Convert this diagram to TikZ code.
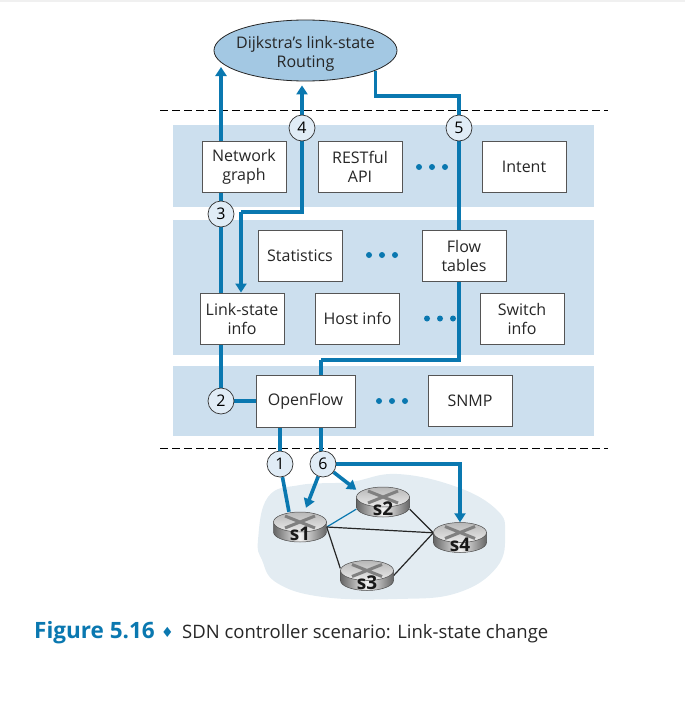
\documentclass[tikz,border=0pt]{standalone}
\usepackage{fontspec}
\setmainfont{Open Sans}
\newfontfamily\symfont{DejaVu Sans}
\usetikzlibrary{shapes.geometric,arrows.meta}
\pgfdeclarelayer{backdrop}
\pgfdeclarelayer{wires}
\pgfsetlayers{backdrop,wires,main}
\definecolor{wireblue}{HTML}{0A78B0}
\definecolor{bandblue}{HTML}{CCDFEE}
\definecolor{ovalblue}{HTML}{A3C8E3}
\definecolor{cloudgray}{HTML}{E3ECF2}
\definecolor{circfill}{HTML}{E0ECF6}
\definecolor{boxline}{HTML}{555555}
\tikzset{
	band/.style={fill=bandblue,draw=none},
	modbox/.style={draw=boxline,fill=white,line width=.9pt,minimum width=84pt,minimum height=51pt,inner sep=0pt,align=center,font=\fontsize{16}{19}\selectfont,text=black!85},
	stepnum/.style={circle,draw=black!80,fill=circfill,line width=.7pt,minimum size=26pt,inner sep=0pt,font=\fontsize{16}{18}\selectfont},
	wire/.style={draw=wireblue,line width=3.6pt},
	wirehead/.style={wire,-{Triangle[length=9pt,width=11pt]}},
	link/.style={draw=black!85,line width=1.2pt},
	routerpos/.style={minimum width=53pt,minimum height=30pt,inner sep=0pt},
	routername/.style={font=\fontsize{19}{20}\selectfont\bfseries,text=black!90,inner sep=0pt},
	dotted3/.style={fill=wireblue,circle,inner sep=0pt,minimum size=6pt}
}
\begin{document}
\begin{tikzpicture}[x=1pt,y=-1pt]
	\useasboundingbox (0,0) rectangle (685,704);
	\begin{pgfonlayer}{backdrop}
	\fill[black!6] (0,0) rectangle (685,2);
	% bands
		\foreach \t/\b in {125/207,220/355,366/436}{
			\fill[band] (173,\t) rectangle (594,\b);
			}
	% separators
		\foreach \y in {110,448}{
			\draw[line width=.9pt,dash pattern=on 7.5pt off 4.5pt] (160,\y) -- (608,\y);
			}
	% switch cloud
		\fill[cloudgray] plot[smooth cycle,tension=.7] coordinates {(258,540) (268,497) (300,485) (350,482) (397,474) (457,487) (497,510) (505,533) (497,567) (457,593) (397,599) (323,597) (277,583) (262,560)};
	\end{pgfonlayer}
	% controller
		\node[ellipse,draw=black!85,fill=ovalblue,line width=.8pt,minimum width=183pt,minimum height=61pt,inner sep=0pt] (dijkstra) at (305.5,50.5) {};
		\node[align=center,inner sep=0pt,font=\fontsize{16}{19}\selectfont,text=black!85] (dijkstratxt) at (305.5,53.5) {Dijkstra's link-state\\Routing};
	% boxes
		\foreach \nm/\x/\y/\txt in {netgraph/244/166.5/Network\\graph,rest/360/166.5/RESTful\\API,intent/524/166.5/Intent,stats/300/255.5/Statistics,flowtab/464/255.5/Flow\\tables,linkinfo/242/318.5/Link-state\\info,hostinfo/357.5/318.5/Host info,switchinfo/522/318.5/Switch\\info}{
			\node[modbox] (\nm) at (\x,\y) {\txt};
			}
		\node[modbox,minimum width=99pt,minimum height=52pt] (oflow) at (305.5,401) {OpenFlow};
		\node[modbox] (snmp) at (470,401) {SNMP};
	% dots
		\foreach \nm/\x/\y in {da/432/167,db/382/255,dc/440/318.5,dd/392/401}{
			\node[dotted3] (\nm l) at (\x-13,\y) {};
			\node[dotted3] (\nm m) at (\x,\y) {};
			\node[dotted3] (\nm r) at (\x+13,\y) {};
			}
	% step circles
		\foreach \n/\x/\y in {1/280/464,2/221/401,3/221/214,4/302/128,5/459/128,6/323/464}{
			\node[stepnum] (c\n) at (\x,\y) {\n};
			}
	% routers
		\foreach \nm/\x/\y in {s1/300/527,s2/383/502,s3/367/575.5,s4/460/537.5}{
			\node[routerpos] (\nm) at (\x,\y) {};
			\draw[draw=black!70,line width=.5pt,left color=black!60,right color=black!60,middle color=black!5] (\x-26.5,\y-5) -- (\x-26.5,\y+5) arc (180:0:26.5 and 10) -- (\x+26.5,\y-5) -- cycle;
			\draw[draw=black!70,line width=.5pt,top color=black!28,bottom color=black!8] (\x,\y-5) ellipse (26.5 and 10);
			\draw[black!50,line width=3pt] (\x-15,\y-11) -- (\x+15,\y+1) (\x+15,\y-11) -- (\x-15,\y+1);
			\node[routername] (\nm name) at (\x,\y+7) {\nm};
			}
	\begin{pgfonlayer}{wires}
	% links
		\draw[draw=wireblue,line width=1.2pt] (s1.east) -- (s2.195);
		\draw[link] (s1.east) -- (s4.170);
		\draw[link] (s1.east) -- (s3.165);
		\draw[link] (s2.-15) -- (s4.170);
		\draw[link] (s3.east) -- (s4.170);
	% arrows up
		\draw[wirehead] (netgraph.north -| c3) -- (c3 |- 0,67);
		\draw[wirehead,shorten >=4pt] (c4) -- (c4 |- dijkstra.south);
		\draw[wire] (dijkstra.-16) |- (c5 |- 0,96) -- (c5);
		\draw[wire] (c5) -- (c5 |- flowtab.north);
	% step 3 and 4
		\draw[wire] (netgraph.south -| c3) -- (c3);
		\draw[wire] (c3) -- (c3 |- linkinfo.north);
		\draw[wire] (c4) |- (241,212) coordinate (bend);
		\draw[wirehead] (bend) -- (bend |- linkinfo.north);
	% step 2, flow tables down
		\draw[wire] (linkinfo.south -| c2) -- (c2);
		\draw[wire] (c2) -- (oflow.west);
		\draw[wire] (flowtab.south -| c5) |- (321,360) coordinate (bendb);
		\draw[wire] (bendb) -- (bendb |- oflow.north);
	% step 1 and 6
		\draw[wire] (oflow.south -| c1) -- (c1);
		\draw[wire] (oflow.south -| bendb) -- (bendb |- c6);
		\draw[wire] (c1) -- (s1.126);
		\draw[wirehead] (c6) -- ([shift={(6pt,4pt)}]s1.north);
		\draw[wirehead] (c6) -- ([shift={(0pt,-3pt)}]s2.north west);
		\draw[wire] (c6) -| (460,490) coordinate (bendc);
		\draw[wirehead] (bendc) -- (bendc |- s4.north);
	\end{pgfonlayer}
	% caption
		\node[anchor=base west,inner sep=0pt,font=\fontsize{22.5}{24}\selectfont\bfseries,text=wireblue] (figno) at (34,638) {Figure 5.16};
		\node[anchor=base west,inner sep=0pt,font=\symfont\fontsize{14}{18}\selectfont,text=wireblue] (figdia) at (161,637) {♦};
		\node[anchor=base west,inner sep=0pt,font=\fontsize{18.5}{20}\selectfont,text=black!85] (figcap) at (182,638) {SDN controller scenario: Link-state change};
\end{tikzpicture}
\end{document}
